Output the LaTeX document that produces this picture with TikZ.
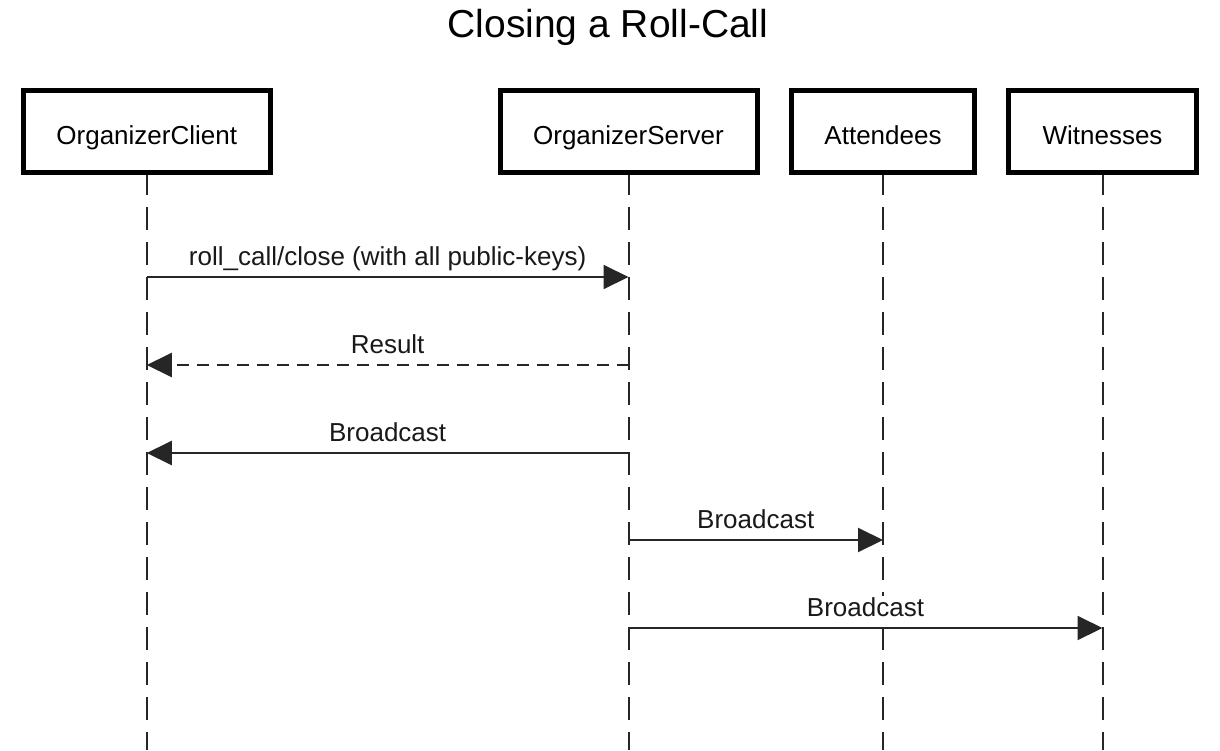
\documentclass[tikz,border=0pt]{standalone}
\usepackage{fontspec}
\setmainfont{Liberation Sans}
\usetikzlibrary{arrows.meta}
\begin{document}
\begin{tikzpicture}[x=1pt,y=-1pt,
  actor/.style={draw=black, line width=5pt, fill=white, minimum height=82pt, inner sep=0pt,
    text height=26pt, text depth=0pt, font=\fontsize{26}{31}\selectfont},
  lifeline/.style={line width=2pt, draw=black!85, dash pattern=on 23pt off 12pt},
  msg/.style={line width=2pt, draw=black!85, -{Triangle[length=25pt,width=24pt]}},
  reply/.style={msg, dash pattern=on 12pt off 8pt},
  lbl/.style={anchor=base, yshift=12pt, inner sep=1pt, fill=white, font=\fontsize{26}{31}\selectfont, text=black!90}]
\useasboundingbox (0,0) rectangle (1220,750);
\node[anchor=base, font=\fontsize{39}{47}\selectfont] (title) at (608,37) {Closing a Roll-Call};
\coordinate (bottom) at (0,750);
\coordinate (r1) at (0,277);
\coordinate (r2) at (0,365);
\coordinate (r3) at (0,453);
\coordinate (r4) at (0,540);
\coordinate (r5) at (0,628);
% lifelines
\coordinate (ocx) at (146.75,131);
\coordinate (osx) at (628.5,131);
\coordinate (atx) at (883,131);
\coordinate (wix) at (1102.5,131);
\draw[lifeline] (ocx |- 0,172) -- (ocx |- bottom);
\draw[lifeline] (osx |- 0,172) -- (osx |- bottom);
\draw[lifeline] (atx |- 0,172) -- (atx |- bottom);
\draw[lifeline] (wix |- 0,172) -- (wix |- bottom);
% actors
\node[actor, minimum width=246.5pt] (oc) at (ocx) {OrganizerClient};
\node[actor, minimum width=257pt] (os) at (osx) {OrganizerServer};
\node[actor, minimum width=183.5pt] (at) at (atx) {Attendees};
\node[actor, minimum width=188pt] (wi) at (wix) {Witnesses};
% messages
\draw[msg] (oc |- r1) -- node[lbl] {roll\_call/close (with all public-keys)} (os |- r1);
\draw[reply] (os |- r2) -- node[lbl] {Result} (oc |- r2);
\draw[msg] (os |- r3) -- node[lbl] {Broadcast} (oc |- r3);
\draw[msg] (os |- r4) -- node[lbl] {Broadcast} (at |- r4);
\draw[msg] (os |- r5) -- node[lbl] {Broadcast} (wi |- r5);
\end{tikzpicture}
\end{document}
